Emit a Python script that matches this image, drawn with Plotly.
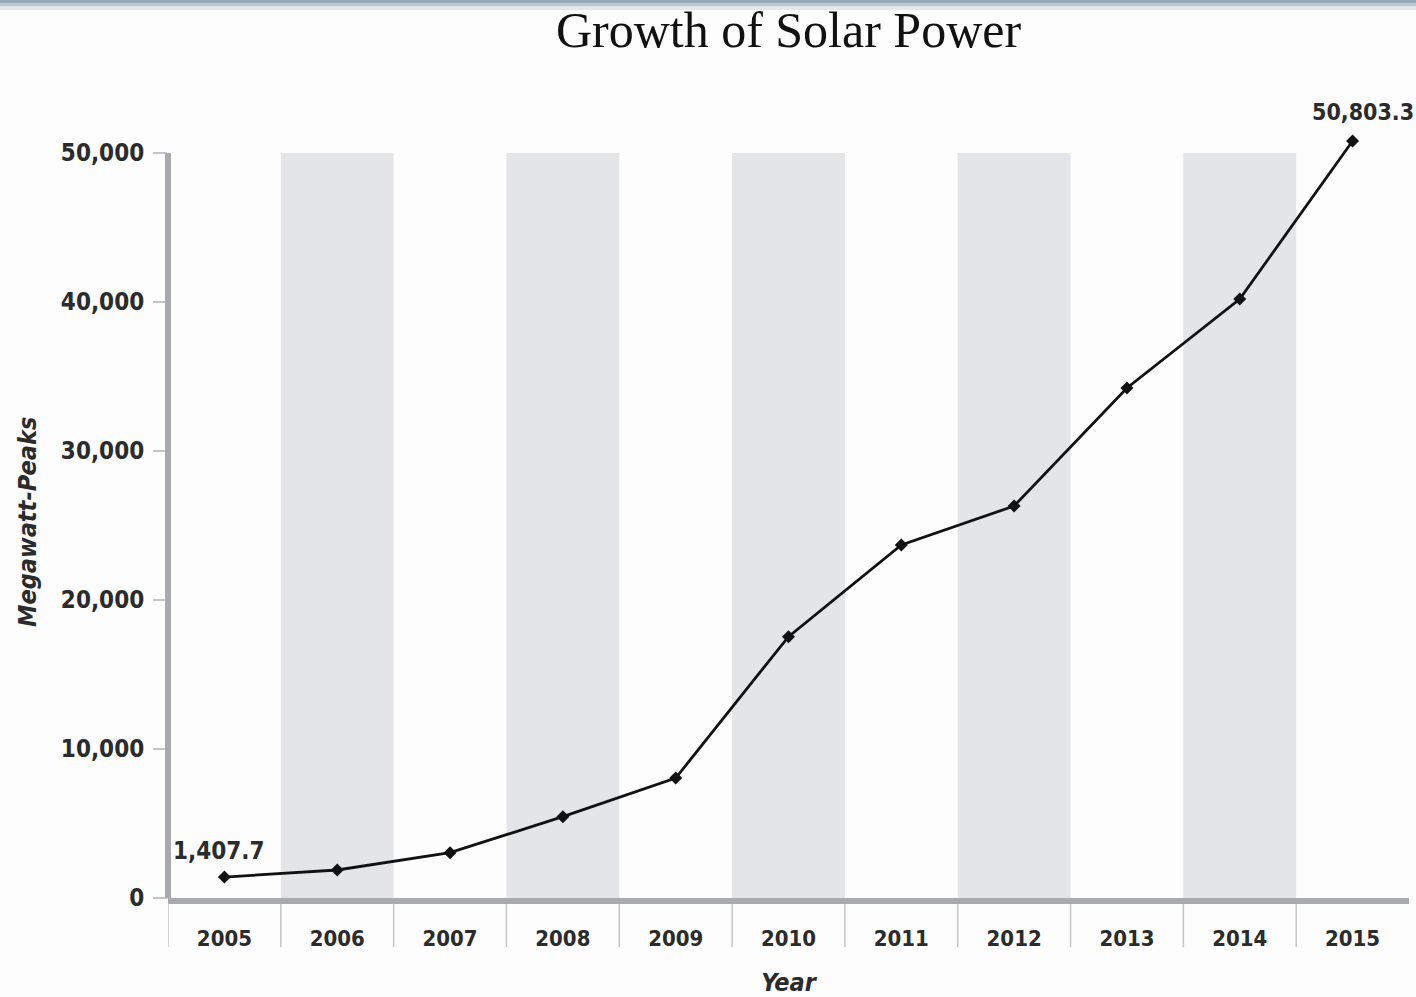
import plotly.graph_objects as go

# data
years = ["2005", "2006", "2007", "2008", "2009", "2010", "2011", "2012", "2013", "2014", "2015"]
megawatt_peaks = [1407.7, 1880, 3040, 5460, 8050, 17540, 23690, 26310, 34230, 40200, 50803.3]
y_ticks = [0, 10000, 20000, 30000, 40000, 50000]
shaded_years = ["2006", "2008", "2010", "2012", "2014"]

narrow = "DejaVu Sans Condensed, Liberation Sans Narrow, sans-serif"
ink = "#2b2b2b"
axis_grey = "#a9aaae"
band_grey = "#e4e5e7"

W, H = 1416, 997
M_L, M_R, M_T, M_B = 168, 7, 100, 99
plot_h = H - M_T - M_B
# y range chosen so 0..50,000 fills the same pixels as the reference, with room above for the last point
y_top = 50000 * plot_h / (plot_h - (153 - M_T))


def narrow_font(size, weight="bold"):
    return dict(family=narrow, size=size, color=ink, weight=weight)


def paper_y(px):
    # pixel row from the top of the page -> paper coordinate
    return (H - M_B - px) / plot_h


fig = go.Figure()

fig.add_trace(
    go.Scatter(
        x=list(range(len(years))),
        y=megawatt_peaks,
        mode="lines+markers",
        line=dict(color="#111111", width=2.8),
        marker=dict(symbol="diamond", size=10, color="#111111"),
        showlegend=False,
        customdata=years,
        hovertemplate="%{customdata}: %{y:,.1f}<extra></extra>",
    )
)

shapes = []
# alternating grey column bands
for yr in shaded_years:
    i = years.index(yr)
    shapes.append(
        dict(
            type="rect", xref="x", yref="y", x0=i - 0.5, x1=i + 0.5, y0=0, y1=y_ticks[-1],
            fillcolor=band_grey, line=dict(width=0), layer="below",
        )
    )
# thin separators between year labels, below the axis
for i in range(len(years)):
    shapes.append(
        dict(
            type="line", xref="x", yref="paper", x0=i - 0.5, x1=i - 0.5, y0=0, y1=paper_y(947),
            line=dict(color="#c4c5c8", width=1.5), layer="below",
        )
    )
# y axis line, only up to the top tick
shapes.append(
    dict(type="line", xref="paper", yref="y", x0=0, x1=0, y0=0, y1=y_ticks[-1],
         line=dict(color=axis_grey, width=6))
)
# screenshot band along the top edge
for top, bottom, colour in [(0, 3, "#97aab6"), (3, 6, "#bcc9d1"), (6, 10, "#e3e8eb")]:
    shapes.append(
        dict(type="rect", xref="paper", yref="paper", x0=-0.2, x1=1.01,
             y0=paper_y(bottom), y1=paper_y(top),
             fillcolor=colour, line=dict(width=0), layer="below")
    )

annotations = [
    # end-point value labels
    dict(x=0, y=megawatt_peaks[0], text=f"{megawatt_peaks[0]:,.1f}", showarrow=False,
         yshift=26, xshift=-5, font=narrow_font(24)),
    dict(x=len(years) - 1, y=megawatt_peaks[-1], text=f"{megawatt_peaks[-1]:,.1f}", showarrow=False,
         yshift=29, xshift=10, font=narrow_font(23)),
    # y axis title, centred on the 0..50,000 span
    dict(x=0, xref="paper", xanchor="center", xshift=-141,
         y=paper_y(522), yref="paper", yanchor="middle",
         text="<i>Megawatt-Peaks</i>", textangle=-90, showarrow=False,
         font=narrow_font(25)),
]

fig.update_layout(
    width=W,
    height=H,
    margin=dict(l=M_L, r=M_R, t=M_T, b=M_B),
    paper_bgcolor="#fdfdfd",
    plot_bgcolor="#fdfdfd",
    title=dict(
        text="Growth of Solar Power",
        x=0.5, xref="paper", xanchor="center",
        y=1 - 29 / H, yref="container", yanchor="middle",
        font=dict(family="Liberation Serif, DejaVu Serif, serif", size=50, color="#111111"),
    ),
    xaxis=dict(
        range=[-0.5, len(years) - 0.5],
        tickvals=list(range(len(years))),
        ticktext=years,
        automargin=False,
        showgrid=False,
        zeroline=False,
        showline=True,
        linecolor=axis_grey,
        linewidth=6,
        ticks="",
        ticklabelstandoff=16,
        tickfont=narrow_font(22),
        title=dict(text="<i>Year</i>", standoff=28, font=narrow_font(25)),
    ),
    yaxis=dict(
        range=[0, y_top],
        tickvals=y_ticks,
        tickformat=",d",
        automargin=False,
        showgrid=False,
        zeroline=False,
        showline=False,
        ticks="outside",
        ticklen=14,
        tickwidth=2,
        tickcolor="#c4c5c8",
        ticklabelstandoff=4,
        tickfont=narrow_font(24),
    ),
    shapes=shapes,
    annotations=annotations,
)

# drop the browser's default 8px body margin so the figure sits flush in the window
fig.write_html(
    "out.html",
    config={"displayModeBar": False},
    post_script="document.body.style.margin = '0';",
)
